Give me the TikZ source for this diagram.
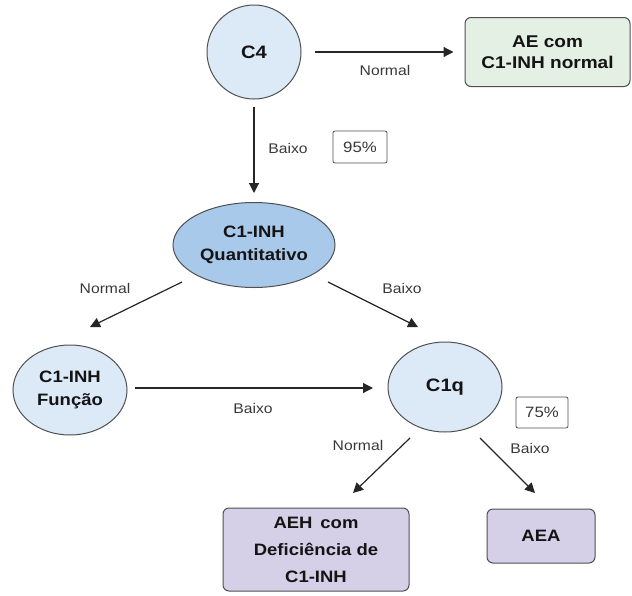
\documentclass[tikz,border=0pt]{standalone}
\usepackage{fontspec}
\usetikzlibrary{shapes.geometric,arrows.meta,calc}
\newfontfamily\lsans[FakeStretch=1.12]{Liberation Sans}
\definecolor{lblue}{HTML}{DCE9F7}
\definecolor{mblue}{HTML}{A9C9EA}
\definecolor{lgreen}{HTML}{E3F0E3}
\definecolor{lav}{HTML}{D5CFE7}
\definecolor{edge}{HTML}{505050}
\definecolor{txt}{HTML}{141414}
\definecolor{ltxt}{HTML}{383838}
\tikzset{
  base/.style={draw=edge, line width=1pt, text=txt, align=center, inner sep=0pt,
    font=\lsans\bfseries\fontsize{16.5}{23}\selectfont},
  circ/.style={base, circle, fill=lblue, minimum size=94pt},
  ell/.style={base, ellipse, fill=lblue, minimum width=114pt, minimum height=90pt},
  box/.style={base, rectangle, rounded corners=6pt},
  pct/.style={draw=edge, line width=0.8pt, rounded corners=2pt, fill=white, text=ltxt,
    font=\lsans\fontsize{15}{18}\selectfont, inner sep=0pt},
  lbl/.style={text=ltxt, font=\lsans\fontsize{14}{17}\selectfont, inner sep=0pt},
  arr/.style={draw=black!85, line width=1.2pt, -{Triangle[length=10pt,width=10pt]}}
}
\begin{document}
\begin{tikzpicture}[x=1pt,y=-1pt]
\useasboundingbox (0,0) rectangle (632,595);
% nodes
\node[circ, font=\lsans\bfseries\fontsize{18}{22}\selectfont] (c4) at (254,52) {C4};
\node[box, fill=lgreen, minimum width=165pt, minimum height=69pt,
  font=\lsans\bfseries\fontsize{17}{21}\selectfont] (ae) at (547.5,52) {AE com\\C1-INH normal};
\node[pct, minimum width=54pt, minimum height=32pt] (p95) at (360,147) {95\%};
\node[base, ellipse, fill=mblue, minimum width=162pt, minimum height=85pt] (quant) at (254,245) {C1-INH\\Quantitativo};
\node[ell] (func) at (70,390) {C1-INH\\Função};
\node[ell, font=\lsans\bfseries\fontsize{18}{22}\selectfont] (c1q) at (445,387) {C1q};
\node[pct, minimum width=52pt, minimum height=31pt] (p75) at (542,412.5) {75\%};
\node[box, fill=lav, minimum width=186pt, minimum height=83pt,
  font=\lsans\bfseries\fontsize{16.5}{27}\selectfont] (aeh) at (316,549.5) {AEH\, com\\Deficiência de\\C1-INH};
\node[box, fill=lav, minimum width=108pt, minimum height=54pt] (aea) at (541,536) {AEA};
% connectors
\draw[arr] ($(c4)+(61,0)$) -- ($(ae)+(-94,0)$);
\draw[arr] ($(c4)+(0,55)$) -- ($(quant)+(0,-52)$);
\draw[arr] ($(quant)+(-72,37)$) -- ($(func)+(20,-63)$);
\draw[arr] ($(quant)+(74,37)$) -- ($(c1q)+(-27,-60)$);
\draw[arr] ($(func)+(65,-2)$) -- ($(c1q)+(-72,1)$);
\draw[arr] ($(c1q)+(-35,51)$) -- ($(aeh)+(37,-56.5)$);
\draw[arr] ($(c1q)+(35,51)$) -- ($(aea)+(-6,-43)$);
% labels
\node[lbl] (l1) at (385,70) {Normal};
\node[lbl] (l2) at (288,148) {Baixo};
\node[lbl] (l3) at (105,288) {Normal};
\node[lbl] (l4) at (402,288) {Baixo};
\node[lbl] (l5) at (253,408) {Baixo};
\node[lbl] (l6) at (358,445) {Normal};
\node[lbl] (l7) at (530,448) {Baixo};
\end{tikzpicture}
\end{document}
